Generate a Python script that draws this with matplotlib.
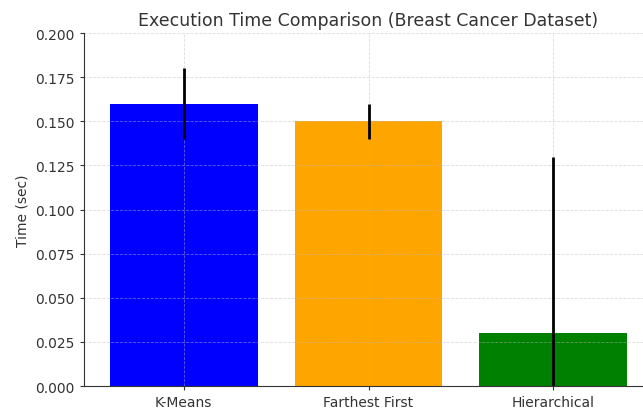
import matplotlib.pyplot as plt

methods = ['K-Means', 'Farthest First', 'Hierarchical']
times = [0.16, 0.15, 0.03]
errors = [0.02, 0.01, 0.10]
bar_colors = ['blue', 'orange', 'green']

fig = plt.figure(figsize=(6.43, 4.10), dpi=100)
ax = fig.add_axes([0.1306, 0.056, 0.885, 0.861])

# grid drawn over the bars, as in the reference
ax.bar(methods, times, yerr=errors, color=bar_colors, width=0.8, zorder=1,
       error_kw=dict(ecolor='black', elinewidth=2, capsize=0, zorder=3))

ax.set_ylim(0, 0.2)
ax.set_yticks([0, 0.025, 0.05, 0.075, 0.1, 0.125, 0.15, 0.175, 0.2])
ax.set_yticklabels([f'{v:.3f}' for v in ax.get_yticks()])
ax.set_ylabel('Time (sec)', fontsize=10, color='#333333')
ax.set_title('Execution Time Comparison (Breast Cancer Dataset)', fontsize=12.5, color='#333333')
ax.tick_params(labelsize=10, colors='#333333', length=3)

ax.grid(True, linestyle='--', linewidth=0.6, color='#bbbbbb', alpha=0.5, zorder=2)
ax.spines['top'].set_visible(False)
ax.spines['right'].set_visible(False)
for s in ['left', 'bottom']:
    ax.spines[s].set_color('#333333')

fig.savefig('out.png', dpi=100)
